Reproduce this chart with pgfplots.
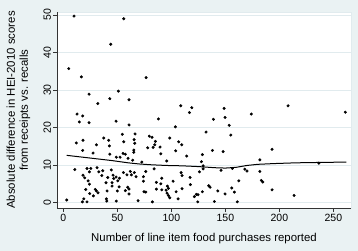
\documentclass[border=0pt]{standalone}
\usepackage{pgfplots}
\pgfplotsset{compat=1.18}
\usepackage{fontspec}
\setmainfont{Liberation Sans}
\definecolor{bgcol}{RGB}{234,242,243}
\definecolor{gridcol}{RGB}{225,235,238}
\begin{document}
\begin{tikzpicture}
\path[use as bounding box] (0,0) rectangle (358pt,251pt);
\fill[bgcol] (0,0) rectangle (358pt,251pt);
\begin{axis}[
  at={(57.3pt,43pt)}, anchor=south west,
  scale only axis, width=293.4pt, height=196pt,
  xmin=-5.6, xmax=266, ymin=-1.44, ymax=50.8,
  xtick={0,50,100,150,200,250}, ytick={0,10,20,30,40,50},
  axis background/.style={fill=white, draw=gridcol},
  axis x line*=bottom, axis y line*=left,
  axis line style={-, black!80, line width=0.6pt},
  tick align=outside, major tick length=4pt,
  tick style={black!80, line width=0.6pt},
  ymajorgrids, grid style={gridcol, line width=0.6pt},
  /pgf/number format/assume math mode=true,
  tick label style={font=\fontsize{10.5}{12}\selectfont},
  xticklabel style={anchor=center, yshift=-6pt},
  yticklabel style={xshift=-6pt, rotate=90, anchor=center},
  xlabel={Number of line item food purchases reported},
  ylabel={Absolute difference in HEI-2010 scores\\from receipts vs. recalls},
  label style={font=\fontsize{11.4}{13}\selectfont},
  xlabel style={at={(axis description cs:0.5,0)}, anchor=center, yshift=-31pt},
  ylabel style={at={(axis description cs:-0.1323,0.5)}, anchor=center, align=center},
]
\addplot[only marks, mark=*, mark size=1.3pt, black] coordinates {
(9.9,49.7) (55.9,49.0) (43.9,42.2) (5,35.7) (16.7,33.5) (76.6,33.3) (23.8,28.9) (50.9,29.7)
(43,27.7) (60.8,27.4) (31.9,26.4) (108.7,25.8) (118.9,25.3) (116.7,24.0) (148.8,25.1) (149.7,22.7)
(138.9,22.2) (174,23.6) (208,25.8) (261,24.1) (153.5,20.6) (132.1,18.8) (155,18.0) (138,13.9)
(147.9,13.6) (128.7,12.8) (127.8,10.9) (129.4,9.8) (129.4,9.0) (146,8.6) (156.5,9.1) (168,8.9)
(170,8.4) (181.9,11.4) (181.9,8.3) (193.2,14.2) (162.4,5.8) (183.3,5.9) (184.6,5.5) (134.6,4.5)
(135.8,4.1) (128.7,2.9) (143,3.1) (155.9,3.9) (158.3,2.8) (149.7,2.3) (124.7,2.1) (139.8,0.3)
(161,0.2) (124.4,0.2) (193.2,3.4) (213.6,1.9) (236.5,10.5)
(88,22.3) (60.8,20.7) (103.7,20.2) (66.4,18.3) (79.6,17.7) (82.1,17.4) (98.5,17.2) (65.5,16.8)
(106.8,16.2) (109.6,15.4) (66.1,15.8) (85.2,16.3) (84.6,15.4) (83.1,14.7) (89.5,14.8) (78.1,14.6)
(65.2,14.0) (65.2,13.4) (90.2,13.0) (104,13.8) (114.2,12.4) (59.9,11.8) (64.2,11.3) (72.6,10.8)
(95.7,11.1) (62,8.3) (65.7,8.0) (63,7.4) (67.3,6.9) (76.3,8.3) (84,9.0) (74.1,6.9)
(109,8.0) (109.9,7.2) (126,8.2) (117.3,6.7) (74.1,5.7) (86.1,5.4) (91.1,6.5) (90.2,5.0)
(101.6,5.7) (96.3,4.4) (97.2,3.8) (95.1,3.3) (86.1,3.6) (91.1,3.4) (109.9,3.7) (104.4,2.9)
(117.6,4.8) (74.7,2.9) (76.3,2.8) (60.8,3.6) (60.8,2.3) (96,2.5) (97.2,1.9) (98.5,1.3)
(106.2,1.0) (123.1,2.2) (121.3,1.6) (69.2,0.5) (82.4,0.2)
(12.7,23.6) (17.9,23.1) (14.8,21.5) (23.8,21.3) (48.8,21.7) (54.6,18.2) (37.4,17.2) (42,16.6)
(18.2,16.6) (12,15.9) (30.6,15.4) (55.9,16.2) (42.6,15.1) (17.9,13.9) (43,12.9) (27.5,13.2)
(55.3,13.1) (57.4,12.9) (52.5,12.1) (49,12.1) (10.6,8.8) (21.9,9.1) (25.4,9.1) (24.1,8.2)
(18.2,7.3) (19.8,6.6) (31.2,9.3) (32.8,8.2) (36.5,8.5) (35.6,7.2) (44.4,8.7) (46,7.3)
(46.6,6.4) (48.8,6.8) (51.9,6.5) (50.4,5.8) (55.6,8.0) (58.9,7.4) (22.9,5.8) (24.1,4.9)
(41.1,6.7) (39.5,5.3) (45.1,5.3) (45.1,4.4) (51.6,4.2) (50,3.1) (59.6,4.1) (57.4,3.2)
(29.6,3.5) (30.6,3.1) (32.1,2.6) (27.8,1.8) (20.7,3.5) (24.4,2.4) (40.5,3.1) (49,0.4)
(39.8,1.0) (40.2,0.4) (18.9,1.0) (17.6,0.2) (21.9,0.2) (3.1,0.7)
};
\addplot[black, line width=1pt, no marks] coordinates {
(3,12.6) (15,12.2) (30,11.7) (45,11.2) (60,10.6) (70,10.3) (80,10.1) (95,9.9) (110,9.8)
(125,9.6) (140,9.3) (150,9.2) (160,9.4) (170,9.9) (180,10.2) (195,10.4) (215,10.6) (237,10.7) (262,10.8)
};
\end{axis}
\end{tikzpicture}
\end{document}
